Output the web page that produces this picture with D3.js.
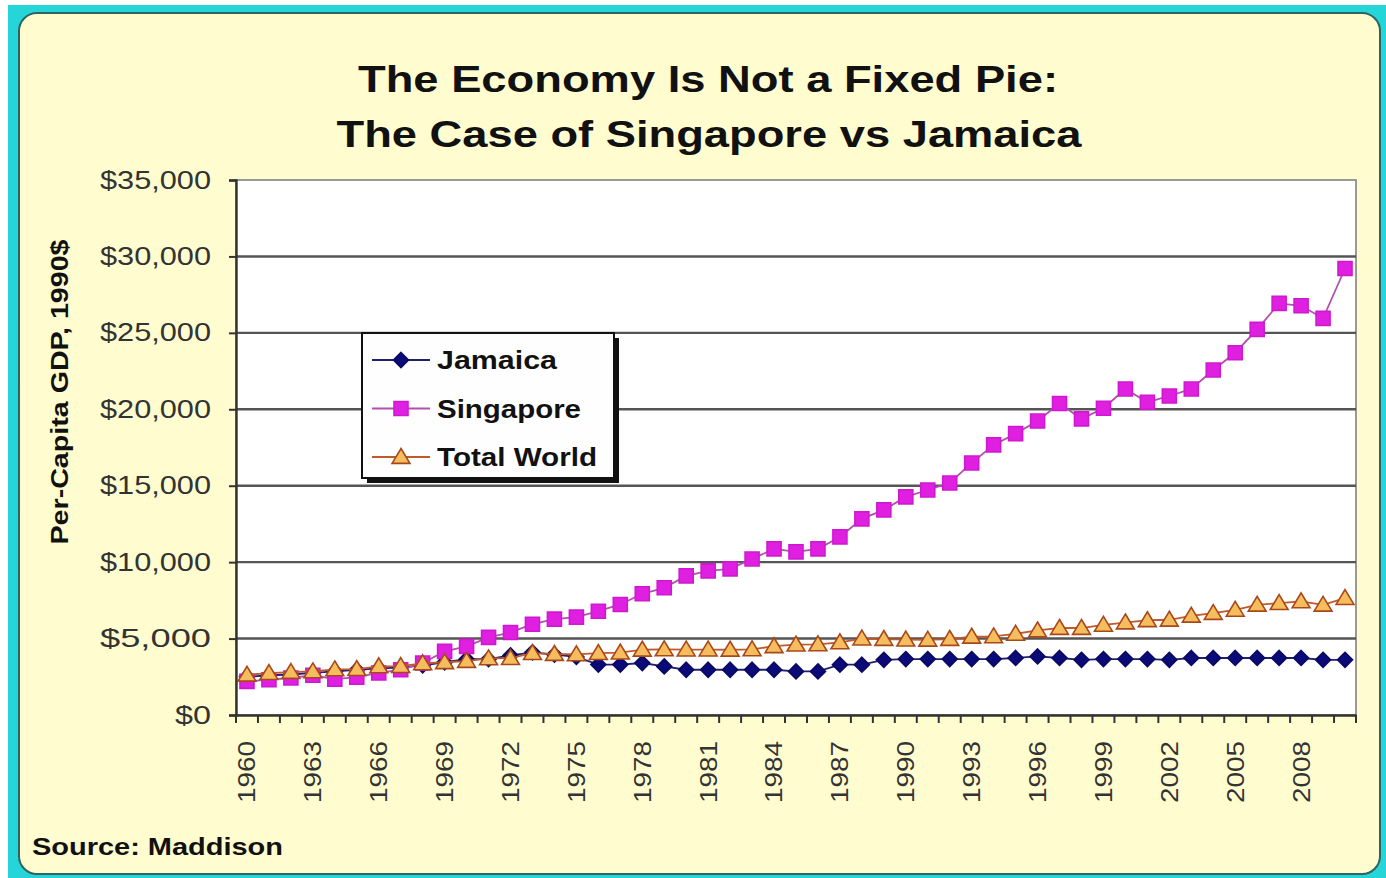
<!DOCTYPE html>
<html>
<head>
<meta charset="utf-8">
<script src="https://cdn.jsdelivr.net/npm/d3@7"></script>
<style>
  html, body { margin: 0; padding: 0; background: #ffffff; overflow: hidden; }
  svg { display: block; }
  text { font-family: "Liberation Sans", Arial, sans-serif; }
</style>
</head>
<body>
<svg id="chart" width="1386" height="878"></svg>
<script>
// Per-capita GDP in 1990 international dollars (Maddison)
const years = [1960,1961,1962,1963,1964,1965,1966,1967,1968,1969,
  1970,1971,1972,1973,1974,1975,1976,1977,1978,1979,
  1980,1981,1982,1983,1984,1985,1986,1987,1988,1989,
  1990,1991,1992,1993,1994,1995,1996,1997,1998,1999,
  2000,2001,2002,2003,2004,2005,2006,2007,2008,2009,2010];

const jamaica = [2500,2600,2650,2750,2850,2950,3050,3100,3250,3450,
  3650,3650,3900,4100,3950,3800,3300,3300,3400,3180,
  2960,2960,2960,2960,2960,2850,2850,3290,3290,3610,
  3660,3660,3660,3660,3660,3730,3830,3730,3610,3660,
  3660,3660,3610,3730,3730,3730,3730,3730,3730,3610,3610];

const singapore = [2200,2310,2420,2600,2350,2480,2750,2960,3400,4160,
  4490,5080,5400,5940,6270,6400,6790,7230,7930,8320,
  9100,9430,9560,10210,10870,10670,10870,11650,12830,13420,
  14270,14720,15180,16490,17670,18410,19230,20380,19370,20070,
  21330,20460,20870,21330,22570,23700,25230,26930,26770,25950,29210];

const totalWorld = [2630,2740,2810,2850,2980,3000,3180,3200,3380,3450,
  3530,3700,3720,4050,3990,3970,4050,4080,4270,4290,
  4280,4280,4270,4290,4500,4600,4620,4750,5000,4970,
  4930,4920,4970,5120,5140,5310,5530,5690,5690,5900,
  6050,6200,6230,6490,6670,6880,7210,7320,7430,7210,7650];

const xTickLabels = ["1960","1963","1966","1969","1972","1975","1978","1981",
  "1984","1987","1990","1993","1996","1999","2002","2005","2008"];
const yTicks = [0,5000,10000,15000,20000,25000,30000,35000];

const seriesNames = ["Jamaica","Singapore","Total World"];

const svg = d3.select("#chart");
const W = 1386, H = 878;
const plot = { left: 236, right: 1356, top: 180, bottom: 715 };

// ---- frame ----
svg.append("rect").attr("x", 8).attr("y", 5).attr("width", W - 8).attr("height", H - 5)
  .attr("fill", "#26d5d7");
svg.append("rect").attr("x", 19).attr("y", 13).attr("width", 1361).attr("height", 861)
  .attr("rx", 18).attr("ry", 18)
  .attr("fill", "#fffdcf").attr("stroke", "#2f6464").attr("stroke-width", 2);

// ---- scales ----
const x = d3.scaleBand().domain(years.map(String)).range([plot.left, plot.right]).padding(0);
const y = d3.scaleLinear().domain([0, 35000]).range([plot.bottom, plot.top]);
const cx = d => x(String(d)) + x.bandwidth() / 2;

// plot area
svg.append("rect").attr("x", plot.left).attr("y", plot.top)
  .attr("width", plot.right - plot.left).attr("height", plot.bottom - plot.top)
  .attr("fill", "#ffffff").attr("stroke", "#9a9a90").attr("stroke-width", 2);

// gridlines
svg.append("g").selectAll("line")
  .data(yTicks.filter(v => v > 0 && v < 35000))
  .join("line")
  .attr("x1", plot.left).attr("x2", plot.right)
  .attr("y1", d => y(d)).attr("y2", d => y(d))
  .attr("stroke", "#555555").attr("stroke-width", 2.4);

// y axis
const yAxis = svg.append("g").attr("transform", `translate(${plot.left},0)`)
  .call(d3.axisLeft(y).tickValues(yTicks).tickFormat(d3.format("$,")).tickSize(7).tickPadding(18));
yAxis.select(".domain").attr("stroke", "#333").attr("stroke-width", 2.4);
yAxis.selectAll(".tick line").attr("stroke", "#333").attr("stroke-width", 2);
yAxis.selectAll(".tick text")
  .attr("fill", "#333333").attr("font-size", 25).attr("font-family", "Liberation Sans, Arial, sans-serif")
  .attr("textLength", d => d === 0 ? 36 : 111).attr("lengthAdjust", "spacingAndGlyphs");

// x axis: labels every third year, tick marks between categories
const xAxis = svg.append("g").attr("transform", `translate(0,${plot.bottom})`)
  .call(d3.axisBottom(x).tickValues(xTickLabels).tickSize(0).tickPadding(0));
xAxis.select(".domain").attr("stroke", "#333").attr("stroke-width", 2.4);
xAxis.selectAll(".tick text")
  .attr("fill", "#333333").attr("font-size", 24).attr("font-family", "Liberation Sans, Arial, sans-serif")
  .attr("text-anchor", "end").attr("dy", "0.35em")
  .attr("transform", "translate(0,26) rotate(-90)")
  .attr("x", 0).attr("y", 0)
  .attr("textLength", 62).attr("lengthAdjust", "spacingAndGlyphs");

const boundaries = years.map(yr => x(String(yr))).concat([plot.right]);
svg.append("g").selectAll("line").data(boundaries).join("line")
  .attr("x1", d => d).attr("x2", d => d)
  .attr("y1", plot.bottom).attr("y2", plot.bottom + 8)
  .attr("stroke", "#333").attr("stroke-width", 2);

// ---- series ----
const line = d3.line().x((d, i) => cx(years[i])).y(d => y(d));

const diamond = s => `M0,${-s}L${s},0L0,${s}L${-s},0Z`;
const square = s => `M${-s},${-s}H${s}V${s}H${-s}Z`;
const triangle = s => `M0,${-s}L${s * 1.05},${s * 0.75}L${-s * 1.05},${s * 0.75}Z`;

const styles = [
  { data: jamaica, line: "#20206e", width: 1.8, path: diamond(7.5), fill: "#0a0a78", stroke: "#0a0a60" },
  { data: singapore, line: "#b050b0", width: 1.8, path: square(7), fill: "#e020e0", stroke: "#d018d0" },
  { data: totalWorld, line: "#c05a2a", width: 1.8, path: triangle(8.5), fill: "#f5bd5e", stroke: "#a8481a" }
];

styles.forEach(s => {
  svg.append("path").datum(s.data).attr("d", line)
    .attr("fill", "none").attr("stroke", s.line).attr("stroke-width", s.width);
  svg.append("g").selectAll("path").data(s.data).join("path")
    .attr("transform", (d, i) => `translate(${cx(years[i])},${y(d)})`)
    .attr("d", s.path).attr("fill", s.fill).attr("stroke", s.stroke).attr("stroke-width", 1.6);
});

// ---- legend ----
const lg = svg.append("g").attr("transform", "translate(362,333)");
lg.append("rect").attr("x", 5).attr("y", 5).attr("width", 252).attr("height", 145).attr("fill", "#111");
lg.append("rect").attr("x", 0).attr("y", 0).attr("width", 252).attr("height", 145)
  .attr("fill", "#fefefe").attr("stroke", "#111").attr("stroke-width", 2);
const legendWidths = [120, 144, 160];
seriesNames.forEach((name, i) => {
  const s = styles[i];
  const ly = 27 + i * 48.5;
  lg.append("line").attr("x1", 10).attr("x2", 68).attr("y1", ly).attr("y2", ly)
    .attr("stroke", s.line).attr("stroke-width", 2);
  lg.append("path").attr("transform", `translate(39,${ly})`).attr("d", s.path)
    .attr("fill", s.fill).attr("stroke", s.stroke).attr("stroke-width", 1.6);
  lg.append("text").attr("x", 75).attr("y", ly).attr("dy", "0.36em")
    .attr("font-size", 25).attr("font-weight", "bold").attr("fill", "#111")
    .attr("textLength", legendWidths[i]).attr("lengthAdjust", "spacingAndGlyphs")
    .text(name);
});

// ---- titles ----
svg.append("text").attr("x", 708).attr("y", 92).attr("text-anchor", "middle")
  .attr("font-size", 37).attr("font-weight", "bold").attr("fill", "#111")
  .attr("textLength", 700).attr("lengthAdjust", "spacingAndGlyphs")
  .text("The Economy Is Not a Fixed Pie:");
svg.append("text").attr("x", 709).attr("y", 147).attr("text-anchor", "middle")
  .attr("font-size", 37).attr("font-weight", "bold").attr("fill", "#111")
  .attr("textLength", 745).attr("lengthAdjust", "spacingAndGlyphs")
  .text("The Case of Singapore vs Jamaica");

svg.append("text").attr("transform", "translate(68,392) rotate(-90)").attr("text-anchor", "middle")
  .attr("font-size", 23).attr("font-weight", "bold").attr("fill", "#111")
  .attr("textLength", 305).attr("lengthAdjust", "spacingAndGlyphs")
  .text("Per-Capita GDP, 1990$");

svg.append("text").attr("x", 32).attr("y", 855)
  .attr("font-size", 24).attr("font-weight", "bold").attr("fill", "#111")
  .attr("textLength", 251).attr("lengthAdjust", "spacingAndGlyphs")
  .text("Source: Maddison");
</script>
</body>
</html>
